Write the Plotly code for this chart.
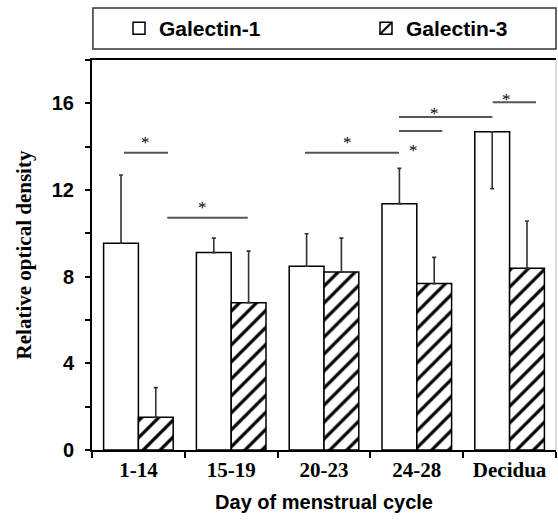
import plotly.graph_objects as go

categories = ["1-14", "15-19", "20-23", "24-28", "Decidua"]
galectin1 = [9.54, 9.11, 8.48, 11.37, 14.69]
galectin1_err_plus = [3.15, 0.67, 1.50, 1.63, 0.0]
galectin1_err_minus = [0.0, 0.0, 0.0, 0.0, 2.63]
galectin3 = [1.51, 6.80, 8.22, 7.68, 8.39]
galectin3_err_plus = [1.37, 2.38, 1.56, 1.21, 2.18]
galectin3_err_minus = [0.0, 0.0, 0.0, 0.0, 0.0]

# significance brackets: (x start, x end, y level, star x, star y) in category-index / value units
sig_x0 = [-0.155, 0.311, 1.795, 2.808, 2.808, 3.818]
sig_x1 = [0.319, 1.178, 2.808, 3.814, 3.275, 4.284]
sig_y = [13.72, 10.72, 13.72, 15.37, 14.72, 16.05]
star_x = [0.079, 0.696, 2.255, 3.196, 2.959, 3.969]
star_y = [14.33, 11.31, 14.31, 15.65, 13.97, 16.31]

yticks = [0, 2, 4, 6, 8, 10, 12, 14, 16, 18]
ytick_text = ["0", "", "4", "", "8", "", "12", "", "16", ""]

SANS = "Liberation Sans, Arial, sans-serif"
SERIF = "Liberation Serif, Times New Roman, serif"

fig = go.Figure()
fig.add_trace(go.Bar(
    name="Galectin-1", x=categories, y=galectin1, legend="legend",
    marker=dict(color="white", line=dict(color="black", width=1.5)),
    error_y=dict(type="data", symmetric=False, array=galectin1_err_plus,
                 arrayminus=galectin1_err_minus, color="#333333", thickness=1.6, width=2),
))
fig.add_trace(go.Bar(
    name="Galectin-3", x=categories, y=galectin3, legend="legend2",
    marker=dict(color="white", line=dict(color="black", width=1.5),
                pattern=dict(shape="/", fgcolor="#000000", fgopacity=1, bgcolor="white",
                             size=12, solidity=0.27)),
    error_y=dict(type="data", symmetric=False, array=galectin3_err_plus,
                 arrayminus=galectin3_err_minus, color="#333333", thickness=1.6, width=2),
))

for x0, x1, y in zip(sig_x0, sig_x1, sig_y):
    fig.add_shape(type="line", xref="x", yref="y", x0=x0, x1=x1, y0=y, y1=y,
                  line=dict(color="#555555", width=2))
for sx, sy in zip(star_x, star_y):
    fig.add_annotation(x=sx, y=sy, xref="x", yref="y", text="*", showarrow=False,
                       font=dict(family=SERIF, size=17, color="black"),
                       yanchor="middle", yshift=-3)

# legend frame and right border
fig.add_shape(type="rect", xref="paper", yref="paper", x0=0.002, x1=1.0, y0=1.0282, y1=1.1333,
              line=dict(color="#333333", width=1.5))
fig.add_shape(type="line", xref="paper", yref="paper", x0=1.0, x1=1.0, y0=0, y1=1,
              line=dict(color="#bbbbbb", width=1))

legend_common = dict(orientation="h", xanchor="left", yanchor="middle",
                     y=1 + (60 - 28.5) / 390, borderwidth=0, bgcolor="rgba(0,0,0,0)",
                     font=dict(family=SANS, size=21, color="black", weight="bold"))

fig.update_layout(
    width=558, height=521,
    margin=dict(l=92, r=2, t=60, b=71, autoexpand=False),
    plot_bgcolor="white", paper_bgcolor="white",
    barmode="group", bargap=0.25, bargroupgap=0,
    showlegend=True,
    legend=dict(x=(119 - 92) / 464, **legend_common),
    legend2=dict(x=(366 - 92) / 464, **legend_common),
    xaxis=dict(
        type="category", range=[-0.5, 4.5], tickson="boundaries",
        showline=True, linecolor="black", linewidth=2, mirror=True,
        ticks="outside", ticklen=6, tickwidth=1.5, tickcolor="black",
        tickfont=dict(family=SERIF, size=21, color="black", weight="bold"),
        title=dict(text="Day of menstrual cycle",
                   font=dict(family=SANS, size=20, color="black", weight="bold"), standoff=14),
        showgrid=False, zeroline=False,
    ),
    yaxis=dict(
        range=[0, 18], tickvals=yticks, ticktext=ytick_text,
        showline=True, linecolor="black", linewidth=2,
        ticks="outside", ticklen=5, tickwidth=1.5, tickcolor="black",
        ticklabelstandoff=7,
        tickfont=dict(family=SANS, size=20, color="black", weight="bold"),
        title=dict(text="Relative optical density",
                   font=dict(family=SERIF, size=21, color="black", weight="bold"), standoff=14),
        showgrid=False, zeroline=False,
    ),
)

fig.write_html("out.html", config={"displayModeBar": False},
               post_script="document.body.style.margin='0';")
